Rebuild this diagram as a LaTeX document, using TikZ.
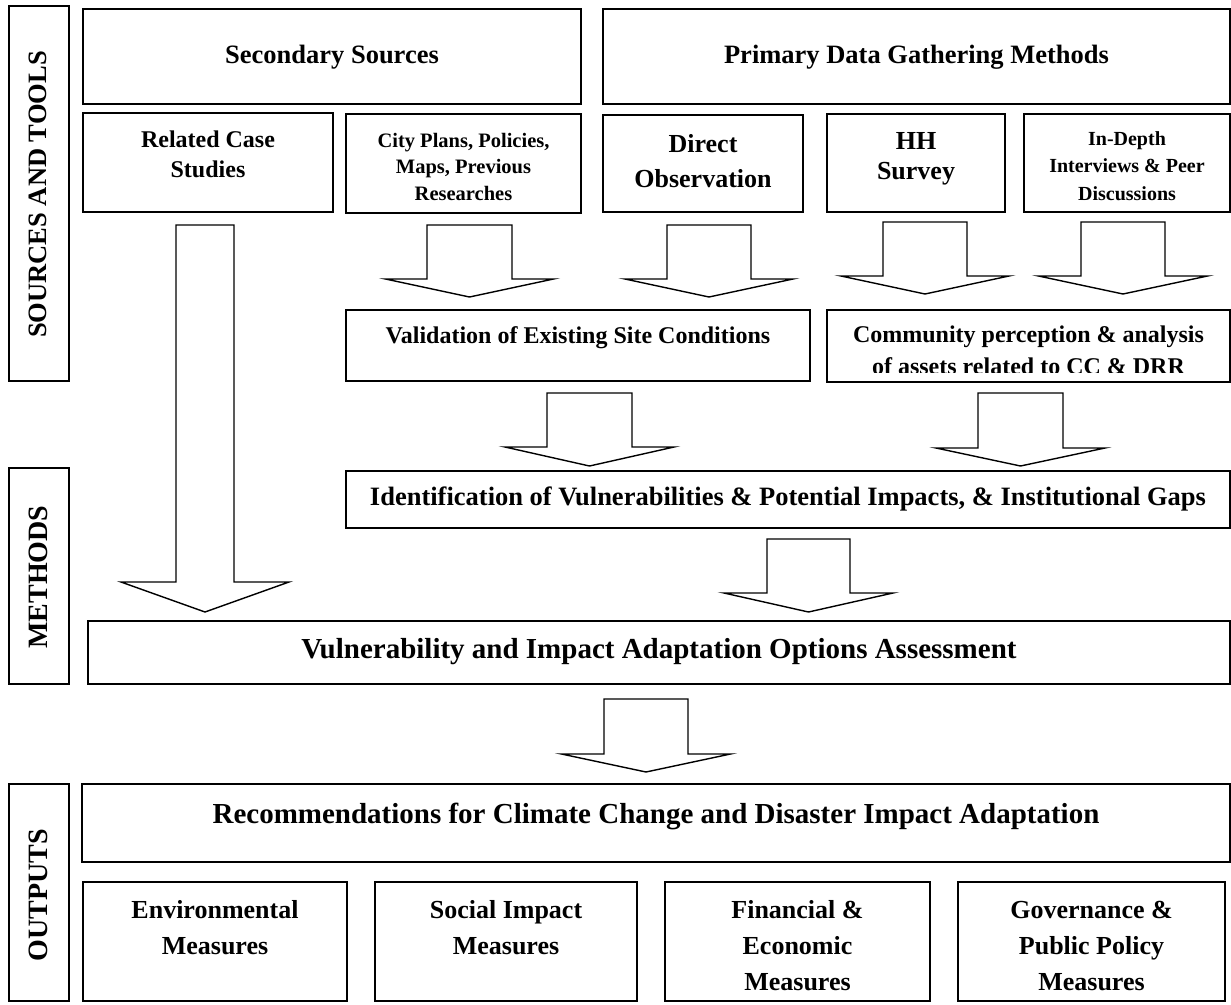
\documentclass[tikz,border=0pt]{standalone}
\usepackage{fontspec}
\setmainfont{Liberation Serif}
\newcommand{\fsz}[2]{\fontsize{#1}{#2}\selectfont\bfseries}
\newcommand{\BArrow}[7]{% name, center x, shaft half, head half, top, head y, tip y
  \draw[barrow] (#2-#3,#5) -- (#2-#3,#6) -- (#2-#4,#6) -- (#2,#7) -- (#2+#4,#6) -- (#2+#3,#6) -- (#2+#3,#5) -- cycle;
  \coordinate (#1) at (#2,#7);}
\begin{document}
\begin{tikzpicture}[x=1pt,y=-1pt,
  box/.style={draw, line width=1.4pt, inner sep=0pt, outer sep=0pt, fill=white},
  txt/.style={inner sep=0pt, outer sep=0pt, align=center, anchor=base},
  side/.style={inner sep=0pt, rotate=90, font=\fsz{28}{28}},
  barrow/.style={draw, fill=white, line width=1.4pt, line join=miter}]
\useasboundingbox (0,0) rectangle (1231,1004);
\fill[white] (0,0) rectangle (1231,1004);

% side labels
\node[box, minimum width=60pt, minimum height=375pt] (lsrc) at (39,193.5) {};
\node[side, font=\fsz{26.5}{28}] (lsrct) at (38,194.5) {SOURCES AND TOOLS};
\node[box, minimum width=60pt, minimum height=216pt] (lmet) at (39,576) {};
\node[side] (lmett) at (38,577) {METHODS};
\node[box, minimum width=60pt, minimum height=217pt] (lout) at (39,892.5) {};
\node[side] (loutt) at (38,895) {OUTPUTS};

% top row
\node[box, minimum width=498pt, minimum height=95pt] (sec) at (332,56.5) {};
\node[txt, font=\fsz{26.5}{30}] (sect) at (332,63) {Secondary Sources};
\node[box, minimum width=627pt, minimum height=95pt] (pri) at (916.5,56.5) {};
\node[txt, font=\fsz{26.5}{30}] (prit) at (916.5,63) {Primary Data Gathering Methods};

% second row (anchor = baseline of last line)
\node[box, minimum width=250pt, minimum height=99pt] (rcs) at (208,162.5) {};
\node[txt, font=\fsz{24}{30}] (rcst) at (208,177) {Related Case\\Studies};
\node[box, minimum width=235pt, minimum height=99pt] (cpp) at (463.5,163.5) {};
\node[txt, font=\fsz{20.5}{26.5}] (cppt) at (463.5,200) {City Plans, Policies,\\Maps, Previous\\Researches};
\node[box, minimum width=200pt, minimum height=97pt] (dob) at (703,163.5) {};
\node[txt, font=\fsz{26}{35}] (dobt) at (703,187) {Direct\\Observation};
\node[box, minimum width=178pt, minimum height=98pt] (hhs) at (916,163) {};
\node[txt, font=\fsz{26}{30}] (hhst) at (916,179) {HH\\Survey};
\node[box, minimum width=206pt, minimum height=98pt] (idi) at (1127,163) {};
\node[txt, font=\fsz{20}{27.5}] (idit) at (1127,200) {In-Depth\\Interviews \& Peer\\Discussions};

% arrows row 1
\BArrow{a1}{205}{29}{84}{225}{582}{612}
\BArrow{a2}{469.5}{42.5}{84}{225}{279}{297}
\BArrow{a3}{709}{42}{84}{225}{279}{297}
\BArrow{a4}{925}{42}{84}{222}{276}{294}
\BArrow{a5}{1123}{42}{84.5}{222}{276}{294}

% third row
\node[box, minimum width=464pt, minimum height=71pt] (val) at (578,345.5) {};
\node[txt, font=\fsz{24}{32}] (valt) at (578,343) {Validation of Existing Site Conditions};
\node[box, minimum width=403pt, minimum height=72pt] (com) at (1028.5,346) {};
\begin{scope}
\clip (827,300) rectangle (1230,372);
\node[txt, font=\fsz{24}{32}] (comt) at (1028.5,374) {Community perception \& analysis\\of assets related to CC \& DRR};
\end{scope}

% arrows row 2
\BArrow{a6}{589.5}{42.5}{84.5}{393}{447}{466}
\BArrow{a7}{1020.5}{42.5}{84.5}{393}{448}{466}

\node[box, minimum width=884pt, minimum height=57pt] (idv) at (788,499.5) {};
\node[txt, font=\fsz{26.5}{30}] (idvt) at (788,505) {Identification of Vulnerabilities \& Potential Impacts, \& Institutional Gaps};

\BArrow{a8}{808.5}{41.5}{84.5}{539}{593}{612}

\node[box, minimum width=1142pt, minimum height=63pt] (via) at (659,652.5) {};
\node[txt, font=\fsz{29}{33}] (viat) at (659,658) {Vulnerability and Impact Adaptation Options Assessment};

\BArrow{a9}{646}{42}{84.5}{699}{754}{772}

% outputs
\node[box, minimum width=1148pt, minimum height=78pt] (rec) at (656,823) {};
\node[txt, font=\fsz{29}{33}] (rect) at (656,823) {Recommendations for Climate Change and Disaster Impact Adaptation};

\node[box, minimum width=264pt, minimum height=119pt] (env) at (215,941.5) {};
\node[txt, font=\fsz{26}{36}] (envt) at (215,954) {Environmental\\Measures};
\node[box, minimum width=262pt, minimum height=119pt] (soc) at (506,941.5) {};
\node[txt, font=\fsz{26}{36}] (soct) at (506,954) {Social Impact\\Measures};
\node[box, minimum width=265pt, minimum height=119pt] (fin) at (797.5,941.5) {};
\node[txt, font=\fsz{26}{36}] (fint) at (797.5,990) {Financial \&\\Economic\\Measures};
\node[box, minimum width=267pt, minimum height=119pt] (gov) at (1091.5,941.5) {};
\node[txt, font=\fsz{26}{36}] (govt) at (1091.5,990) {Governance \&\\Public Policy\\Measures};
\end{tikzpicture}
\end{document}
